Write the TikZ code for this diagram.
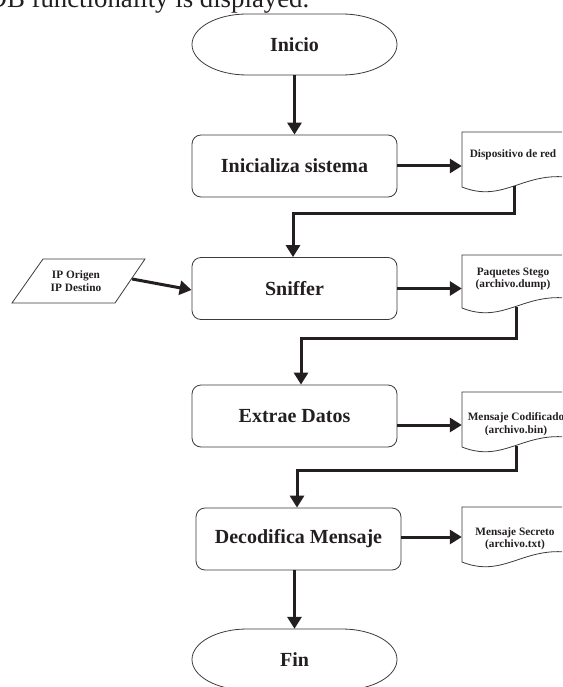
\documentclass[tikz,border=0pt]{standalone}
\usepackage{fontspec}
\setmainfont{Liberation Serif}
\usetikzlibrary{arrows.meta,calc}
\definecolor{ink}{HTML}{231F20}
\definecolor{edgegray}{HTML}{3A3A3A}
\newcommand\docoutline[4]{%
  \draw[shapeline] (#1,#4) -- (#1,#2) -- (#3,#2) -- (#3,#4-10)
    .. controls (#1+60,#4-14) and (#1+40,#4+16) .. (#1,#4) -- cycle;}
\newcommand\termoutline[2]{% top, bottom (left 192, right 397)
  \draw[shapeline] (247,#1) -- (342,#1)
    .. controls (372.4,#1) and (397,{(#1+#2)/2-16.8}) .. (397,{(#1+#2)/2})
    .. controls (397,{(#1+#2)/2+16.8}) and (372.4,#2) .. (342,#2)
    -- (247,#2)
    .. controls (216.6,#2) and (192,{(#1+#2)/2+16.8}) .. (192,{(#1+#2)/2})
    .. controls (192,{(#1+#2)/2-16.8}) and (216.6,#1) .. cycle;}
\begin{document}
\begin{tikzpicture}[x=1pt,y=-1pt,
  shapeline/.style={draw=edgegray, line width=0.8pt},
  procbox/.style={draw=edgegray, line width=0.8pt, rounded corners=9pt,
    minimum width=205pt, minimum height=62pt, inner sep=0pt,
    font=\bfseries\fontsize{20}{24}\selectfont, text=ink},
  termtext/.style={inner sep=0pt, minimum width=205pt, minimum height=61pt,
    font=\bfseries\fontsize{20}{24}\selectfont, text=ink},
  docbody/.style={inner sep=0pt, minimum width=104pt, align=center,
    font=\bfseries\fontsize{11.3}{12.5}\selectfont, text=ink},
  doctext/.style={inner sep=0pt, align=center,
    font=\bfseries\fontsize{11.3}{12.5}\selectfont, text=ink},
  conn/.style={draw=ink, line width=3pt, -{Triangle[length=12pt,width=14pt]}}
]
\clip (0,0) rectangle (562,687);

% caption fragment at top
\node[anchor=base west, inner sep=0pt, font=\fontsize{26.8}{30}\selectfont, text=ink]
  (cap) at (-12.5,8) {DB functionality is displayed.};

% outlines
\termoutline{14}{75}
\termoutline{629}{690}
\docoutline{462}{132}{566}{187}
\docoutline{462}{255}{566}{308}
\docoutline{462}{392}{566}{447}
\docoutline{462}{507}{566}{562}
\draw[shapeline] (43,259) -- (145,259) -- (115,303) -- (12,303) -- cycle;

% nodes
\node[termtext] (ini) at (294.5,44.5) {Inicio};
\node[procbox] (inz) at (294.5,166) {Inicializa sistema};
\node[procbox] (sn) at (294.5,288.5) {Sniffer};
\node[procbox] (ex) at (294.5,416) {Extrae Datos};
\node[procbox] (de) at (298.5,539) {Decodifica Mensaje};
\node[termtext] (fin) at (294.5,659.5) {Fin};

\node[docbody, minimum height=55pt] (d1) at (514,159.5) {};
\node[docbody, minimum height=53pt] (d2) at (514,281.5) {};
\node[docbody, minimum height=55pt] (d3) at (514,419.5) {};
\node[docbody, minimum height=55pt] (d4) at (514,534.5) {};
\node[doctext] (t1) at (513,155) {Dispositivo de red};
\node[doctext] (t2) at (513,279) {Paquetes Stego\\(archivo.dump)};
\node[doctext] (t3) at (516,424) {Mensaje Codificado\\(archivo.bin)};
\node[doctext] (t4) at (515,539) {Mensaje Secreto\\(archivo.txt)};

\node[inner sep=0pt, minimum width=133pt, minimum height=44pt] (ip) at (78.5,281) {};
\node[doctext] (ipt) at (76,281) {IP Origen\\IP Destino};

% connectors
\draw[conn] (ini.south) -- (inz.north);
\draw[conn] (inz.east) -- (inz.east -| d1.west);
\draw[conn] ($(d1.south)+(0,-1)$) |- ($(sn.north)+(-1.5,-44)$) -- ($(sn.north)+(-1.5,0)$);
\draw[conn] ($(ip.east)+(-13,-2)$) -- ($(sn.west)+(0,1.5)$);
\draw[conn] (sn.east) -- (sn.east -| d2.west);
\draw[conn] ($(d2.south)+(2,-1)$) |- ($(ex.north)+(6.5,-46)$) -- ($(ex.north)+(6.5,0)$);
\draw[conn] ($(ex.east)+(0,9)$) -- ($(ex.east -| d3.west)+(0,9)$);
\draw[conn] ($(d3.south)+(2,-1)$) |- ($(de.north)+(-1.5,-37)$) -- ($(de.north)+(-1.5,0)$);
\draw[conn] ($(de.east)+(0,-2)$) -- ($(de.east -| d4.west)+(0,-2)$);
\draw[conn] (de.south -| fin.north) -- (fin.north);
\end{tikzpicture}
\end{document}
